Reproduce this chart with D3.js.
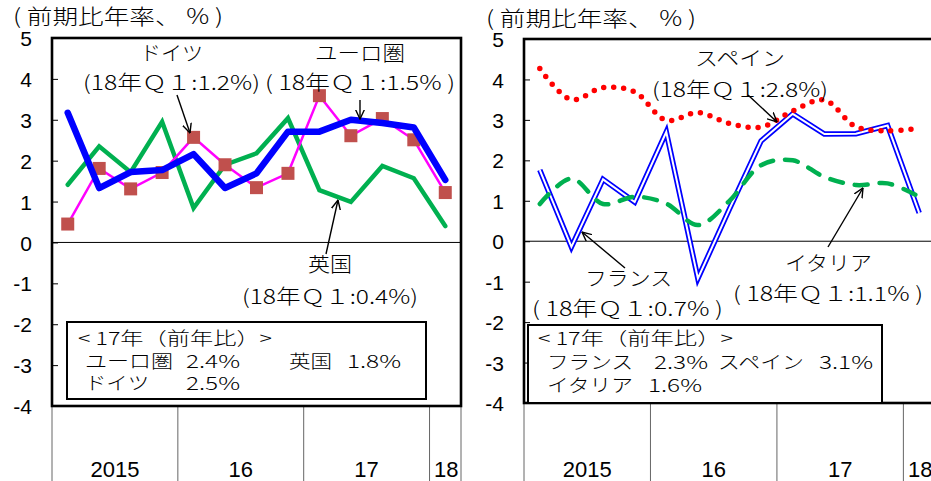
<!DOCTYPE html>
<meta charset="utf-8">
<head>
<style>
body { margin: 0; background: #fff; }
svg { display: block; }
.jp { font-family: "Noto Sans CJK JP", "Liberation Sans", sans-serif; fill: #000; font-weight: 300; }
.num { font-family: "Liberation Sans", Arial, sans-serif; fill: #000; }
</style>
</head>
<body>
<div id="chart"></div>
<script src="https://d3js.org/d3.v7.min.js"></script>
<script>

// quarters 2015Q1 .. 2018Q1
var quarters = ["2015Q1","2015Q2","2015Q3","2015Q4","2016Q1","2016Q2","2016Q3","2016Q4",
                "2017Q1","2017Q2","2017Q3","2017Q4","2018Q1"];
var yearLabels = ["2015", "16", "17", "18"];
var yTicks = [-4, -3, -2, -1, 0, 1, 2, 3, 4, 5];

// left panel (annualised q/q, %)
var euroArea = [3.17, 1.33, 1.72, 1.77, 2.16, 1.33, 1.69, 2.71, 2.71, 3.00, 2.92, 2.81, 1.53];
var germany  = [0.45, 1.81, 1.31, 1.71, 2.57, 1.90, 1.34, 1.69, 3.59, 2.61, 3.03, 2.51, 1.22];
var uk       = [1.41, 2.35, 1.72, 2.95, 0.84, 1.90, 2.18, 3.04, 1.28, 0.99, 1.87, 1.57, 0.40];

// right panel
var france = [1.76, -0.14, 1.53, 0.97, 2.70, -0.92, 0.80, 2.48, 3.15, 2.65, 2.66, 2.86, 0.70];
var spain  = [4.27, 3.50, 3.80, 3.69, 2.99, 3.18, 2.91, 2.82, 3.22, 3.49, 2.83, 2.73, 2.79];
var italy  = [0.92, 1.55, 0.92, 1.10, 0.93, 0.40, 1.00, 1.88, 2.00, 1.59, 1.39, 1.43, 1.10];

var svg = d3.select("#chart").append("svg")
    .attr("width", 931)
    .attr("height", 481);

svg.append("defs").append("marker")
    .attr("id", "arr")
    .attr("viewBox", "0 0 10 10")
    .attr("refX", 9.5).attr("refY", 5)
    .attr("markerWidth", 10).attr("markerHeight", 10)
    .attr("markerUnits", "userSpaceOnUse")
    .attr("orient", "auto")
  .append("path")
    .attr("d", "M0,0.5 L9.5,5 L0,9.5")
    .attr("fill", "none")
    .attr("stroke", "#000")
    .attr("stroke-width", 1.4);

function makePanel(cfg) {
  var x = d3.scalePoint().domain(quarters).range([cfg.x0, cfg.x1]).padding(0.5);
  var step = x.step();
  var y = d3.scaleLinear().domain([-4, 5]).range([cfg.yBot, cfg.yTop]);
  var g = svg.append("g");

  // year blocks below the plot
  var yearStarts = quarters.map(function(q, i) { return i; })
      .filter(function(i) { return quarters[i].slice(4) == "Q1"; });
  var bounds = yearStarts.map(function(i) { return x(quarters[i]) - step / 2; });
  bounds.push(cfg.x1);
  bounds.forEach(function(b) {
    g.append("line")
      .attr("x1", b).attr("x2", b)
      .attr("y1", cfg.yBot).attr("y2", 481)
      .attr("stroke", "#666").attr("stroke-width", 1);
  });
  yearLabels.forEach(function(t, i) {
    g.append("text").attr("class", "num")
      .attr("x", (bounds[i] + bounds[i + 1]) / 2 + (i == 3 ? 1 : 0))
      .attr("y", 477)
      .attr("text-anchor", "middle")
      .style("font-size", "22px")
      .text(t);
  });

  // y axis: ticks inside, labels outside
  var axis = g.append("g")
    .attr("transform", "translate(" + cfg.x0 + ",0)")
    .call(d3.axisLeft(y).tickValues(yTicks).tickSizeInner(-6).tickSizeOuter(0).tickPadding(20)
      .tickFormat(function(d) { return d < 0 ? "-" + Math.abs(d) : d; }));
  axis.select(".domain").remove();
  axis.selectAll("line").attr("stroke", "#000");
  axis.selectAll("text")
    .attr("class", "num")
    .attr("dy", "0.36em")
    .style("font-size", "21px")
    .style("font-family", "Liberation Sans, Arial, sans-serif");

  // zero line
  g.append("line")
    .attr("x1", cfg.x0).attr("x2", cfg.x1)
    .attr("y1", y(0)).attr("y2", y(0))
    .attr("stroke", "#000").attr("stroke-width", 1);

  cfg.series(g, x, y);

  // frame
  g.append("rect")
    .attr("x", cfg.x0).attr("y", cfg.yTop)
    .attr("width", cfg.x1 - cfg.x0).attr("height", cfg.yBot - cfg.yTop)
    .attr("fill", "none").attr("stroke", "#000").attr("stroke-width", 2.6);

  // unit label
  g.append("text").attr("class", "jp")
    .attr("x", cfg.titleX).attr("y", cfg.titleY)
    .attr("textLength", 210).attr("lengthAdjust", "spacingAndGlyphs")
    .style("font-size", "21px")
    .text("( 前期比年率、 % )");

  // notes box
  g.append("rect")
    .attr("x", cfg.box[0]).attr("y", cfg.box[1])
    .attr("width", cfg.box[2]).attr("height", cfg.box[3])
    .attr("fill", "#fff").attr("stroke", "#000").attr("stroke-width", 2);

  cfg.texts.forEach(function(t) {
    var el = g.append("text").attr("class", "jp")
      .attr("x", t[0]).attr("y", t[1])
      .attr("dominant-baseline", "central")
      .style("font-size", (t[4] || 20) + "px")
      .text(t[2]);
    if (t[3]) el.attr("textLength", t[3]).attr("lengthAdjust", "spacingAndGlyphs");
  });

  cfg.arrows.forEach(function(a) {
    g.append("line")
      .attr("x1", a[0]).attr("y1", a[1]).attr("x2", a[2]).attr("y2", a[3])
      .attr("stroke", "#000").attr("stroke-width", 1.4)
      .attr("marker-end", "url(#arr)");
  });
}

function lineOf(x, y, curve) {
  return d3.line()
    .x(function(d, i) { return x(quarters[i]); })
    .y(function(d) { return y(d); })
    .curve(curve || d3.curveLinear);
}

makePanel({
  x0: 52, x1: 461, yTop: 38, yBot: 406,
  titleX: 13, titleY: 24,
  series: function(g, x, y) {
    g.append("path").datum(uk)
      .attr("d", lineOf(x, y))
      .attr("fill", "none").attr("stroke", "#00B050").attr("stroke-width", 4.5)
      .attr("stroke-linecap", "round");
    g.append("path").datum(germany)
      .attr("d", lineOf(x, y))
      .attr("fill", "none").attr("stroke", "#FF00FF").attr("stroke-width", 2.5);
    g.selectAll(".sq").data(germany).enter().append("rect")
      .attr("x", function(d, i) { return x(quarters[i]) - 6.5; })
      .attr("y", function(d) { return y(d) - 6.5; })
      .attr("width", 13).attr("height", 13)
      .attr("fill", "#C0504D");
    g.append("path").datum(euroArea)
      .attr("d", lineOf(x, y))
      .attr("fill", "none").attr("stroke", "#0000FF").attr("stroke-width", 6.5)
      .attr("stroke-linecap", "round").attr("stroke-linejoin", "round");
  },
  box: [67, 322, 359, 77],
  texts: [
    [140, 52, "ドイツ", 63],
    [83, 81, "(18年Ｑ１:1.2%)", 177],
    [315, 52, "ユーロ圏", 90],
    [265, 81, "( 18年Ｑ１:1.5% )", 190],
    [308, 263, "英国", 44],
    [242, 295, "(18年Ｑ１:0.4%)", 176],
    [78, 337, "< 17年（前年比）>", 194, 18],
    [85, 360, "ユーロ圏", 88, 18],
    [186, 360, "2.4%", 54, 18],
    [289, 360, "英国", 43, 18],
    [347, 360, "1.8%", 54, 18],
    [85, 382, "ドイツ", 64, 18],
    [186, 382, "2.5%", 54, 18]
  ],
  arrows: [
    [177, 95, 190, 133],
    [360, 100, 360, 119],
    [326, 254, 338, 200]
  ]
});

makePanel({
  x0: 524, x1: 935, yTop: 39, yBot: 403,
  titleX: 486, titleY: 26,
  series: function(g, x, y) {
    g.append("path").datum(france)
      .attr("d", lineOf(x, y))
      .attr("fill", "none").attr("stroke", "#0000FF").attr("stroke-width", 5.5);
    g.append("path").datum(france)
      .attr("d", lineOf(x, y))
      .attr("fill", "none").attr("stroke", "#fff").attr("stroke-width", 2);
    g.append("path").datum(italy)
      .attr("d", lineOf(x, y, d3.curveCatmullRom))
      .attr("fill", "none").attr("stroke", "#00B050").attr("stroke-width", 4.5)
      .attr("stroke-dasharray", "13,12").attr("stroke-linecap", "round");
    g.append("path").datum(spain)
      .attr("d", lineOf(x, y, d3.curveCatmullRom))
      .attr("fill", "none").attr("stroke", "#FF0000").attr("stroke-width", 5.5)
      .attr("stroke-dasharray", "0,10").attr("stroke-linecap", "round");
  },
  box: [528, 325, 354, 78],
  texts: [
    [695, 57, "スペイン", 90],
    [652, 88, "(18年Ｑ１:2.8%)", 176],
    [585, 277, "フランス", 87],
    [532, 307, "( 18年Ｑ１:0.7% )", 191],
    [785, 262, "イタリア", 87],
    [733, 292, "( 18年Ｑ１:1.1% )", 190],
    [538, 337, "< 17年（前年比）>", 195, 18],
    [547, 361, "フランス", 86, 18],
    [654, 361, "2.3%", 54, 18],
    [718, 361, "スペイン", 86, 18],
    [819, 361, "3.1%", 54, 18],
    [547, 384, "イタリア", 86, 18],
    [648, 384, "1.6%", 54, 18]
  ],
  arrows: [
    [748, 95, 777, 122],
    [625, 268, 582, 232],
    [828, 247, 863, 188]
  ]
});

</script>
</body>
